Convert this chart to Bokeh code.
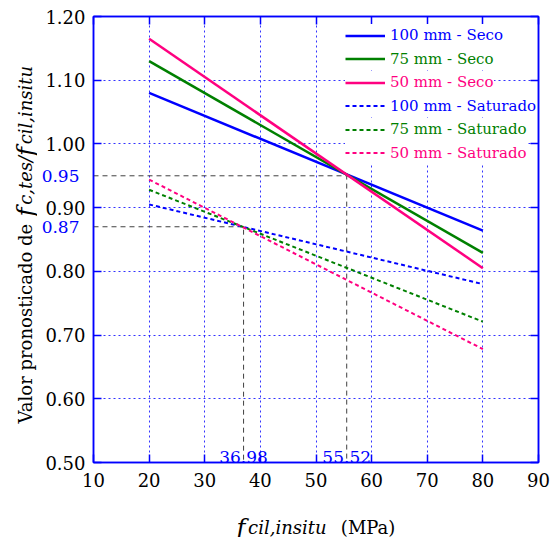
import math
from bokeh.plotting import figure
from bokeh.layouts import row, column
from bokeh.models import (Range1d, FixedTicker, LinearAxis, Legend, LegendItem,
                          Label, NumeralTickFormatter)
from bokeh.core.properties import value
from bokeh.embed import file_html
from bokeh.resources import INLINE

# ---------------- data ----------------
x_pts = [20, 80]
seco_100 = [1.080, 0.864]
seco_75 = [1.130, 0.829]
seco_50 = [1.165, 0.805]
sat_100 = [0.905, 0.780]
sat_75 = [0.928, 0.721]
sat_50 = [0.944, 0.678]
series_names = ["100 mm - Seco", "75 mm - Seco", "50 mm - Seco",
                "100 mm - Saturado", "75 mm - Saturado", "50 mm - Saturado"]
x_ticks = [10, 20, 30, 40, 50, 60, 70, 80, 90]
y_ticks = [0.5, 0.6, 0.7, 0.8, 0.9, 1.0, 1.1, 1.2]
cross_x = [55.52, 36.98]
cross_y = [0.95, 0.87]
cross_x_labels = ["55.52", "36.98"]

BLUE = "#0000ff"
GREEN = "#008000"
PINK = "#ff0080"
FONT = "DejaVu Serif"

# approximate DejaVu Serif advance widths (em)
DV = {' ': .318, '(': .390, ')': .390, ',': .318, '-': .338, '.': .318, '/': .337,
      'M': .995, 'P': .733, 'V': .722, 'a': .596, 'c': .560, 'd': .640, 'e': .592,
      'f': .370, 'i': .320, 'l': .320, 'n': .644, 'o': .602, 'p': .640, 'r': .478,
      's': .513, 't': .402, 'u': .644}


def tw(s, size, style):
    k = 1.08 if style == "italic" else 1.0
    return sum(DV.get(ch, 0.6) for ch in s) * size * k


def blank_fig(w, h, xr, yr, bl=0, br=0):
    f = figure(width=w, height=h, x_range=Range1d(*xr), y_range=Range1d(*yr),
               x_axis_type=None, y_axis_type=None,
               output_backend="svg", toolbar_location=None,
               min_border=0, min_border_left=bl, min_border_right=br,
               min_border_top=0, min_border_bottom=0)
    f.grid.visible = False
    f.outline_line_color = None
    f.background_fill_color = "white"
    f.border_fill_color = "white"
    return f


LEFT_W = 37
MAIN_W = 550 - LEFT_W
MAIN_H = 500
BL, BR = 56, 12

# ---------------- main plot ----------------
p = figure(width=MAIN_W, height=MAIN_H, x_range=Range1d(10, 90), y_range=Range1d(0.5, 1.2),
           output_backend="svg", toolbar_location=None,
           min_border_left=BL, min_border_right=BR, min_border_top=16, min_border_bottom=38)
p.background_fill_color = "white"
p.border_fill_color = "white"
p.outline_line_color = BLUE
p.outline_line_width = 1.5

for ax in p.xaxis + p.yaxis:
    ax.axis_line_color = BLUE
    ax.axis_line_width = 1.5
    ax.major_tick_line_color = BLUE
    ax.major_tick_line_width = 1.5
    ax.major_tick_in = 8
    ax.major_tick_out = 0
    ax.minor_tick_line_color = None
    ax.major_label_text_font = FONT
    ax.major_label_text_font_size = "18px"
    ax.major_label_text_color = "black"
p.xaxis.ticker = FixedTicker(ticks=x_ticks)
p.yaxis.ticker = FixedTicker(ticks=y_ticks)
p.yaxis.formatter = NumeralTickFormatter(format="0.00")
p.xaxis.major_label_standoff = 10
p.yaxis.major_label_standoff = 8

# blue labels for the crossing values, as a second left axis pulled inwards
cross_axis = LinearAxis(ticker=FixedTicker(ticks=cross_y),
                        formatter=NumeralTickFormatter(format="0.00"),
                        axis_line_color=None, major_tick_line_color=None,
                        minor_tick_line_color=None, major_label_standoff=-43,
                        major_label_text_font=FONT, major_label_text_font_size="17px",
                        major_label_text_color=BLUE)
p.add_layout(cross_axis, "left")

p.xgrid.ticker = FixedTicker(ticks=x_ticks)
p.ygrid.ticker = FixedTicker(ticks=y_ticks)
for g in (p.xgrid, p.ygrid):
    g.grid_line_color = BLUE
    g.grid_line_alpha = 0.8
    g.grid_line_dash = "2 3"
    g.grid_line_width = 1

for side, tk in (("above", x_ticks), ("right", y_ticks)):
    ax = LinearAxis(ticker=FixedTicker(ticks=tk), major_label_text_font_size="0px",
                    axis_line_color=BLUE, axis_line_width=1.5,
                    major_tick_line_color=BLUE, major_tick_line_width=1.5,
                    major_tick_in=8, major_tick_out=0, minor_tick_line_color=None,
                    major_label_standoff=0)
    p.add_layout(ax, side)

# reference dashed lines
for cx, cy in zip(cross_x, cross_y):
    p.line([x_ticks[0], cx, cx], [cy, cy, y_ticks[0]], line_color="#404040",
           line_dash="5 4", line_width=1)

series = [seco_100, seco_75, seco_50, sat_100, sat_75, sat_50]
colors = [BLUE, GREEN, PINK, BLUE, GREEN, PINK]
dashes = ["solid", "solid", "solid", "4 3", "4 3", "4 3"]
widths = [2.5, 2.5, 2.5, 2, 2, 2]
renderers = []
for vals, col, dsh, w in zip(series, colors, dashes, widths):
    r = p.line(x_pts, vals, line_color=col, line_dash=dsh, line_width=w)
    renderers.append(r)

# legends (one per item, so every label has its own colour)
for k, (name, r, col) in enumerate(zip(series_names, renderers, colors)):
    leg = Legend(items=[LegendItem(label=name, renderers=[r])],
                 location=(252, 427 - 23.5 * k - 11.5),
                 background_fill_color="white", background_fill_alpha=1.0,
                 border_line_color=None, padding=0, margin=0, spacing=0,
                 glyph_width=40, glyph_height=23, label_height=23, label_standoff=5,
                 label_text_font=FONT, label_text_font_size="15px",
                 label_text_color=col)
    p.add_layout(leg)

# blue crossing labels inside the frame
for cx, t in zip(cross_x, cross_x_labels):
    p.add_layout(Label(x=cx, y=y_ticks[0], text=t, text_align="center",
                       text_baseline="bottom", text_font=FONT,
                       text_font_size="17px", text_color=BLUE))

# ---------------- y axis title (left strip, page pixel coords, y up) ----------------
left = blank_fig(LEFT_W, 537, (0, LEFT_W), (0, 537))
ypieces = [("Valor pronosticado de ", "normal", 18, 0),
           ("f", "italic", 24, 2),
           ("c,tes/", "italic", 18, -4),
           ("f", "italic", 24, 2),
           ("cil,insitu", "italic", 18, 0)]
pos = 114
for txt, style, size, gap in ypieces:
    left.text(x=[25], y=[pos], text=[txt.strip()], angle=math.pi / 2,
              text_align="left", text_baseline="middle",
              text_font=value(FONT), text_font_style=style,
              text_font_size=value(f"{size}px"), text_color="black")
    pos += tw(txt, size, style) + gap

# ---------------- x axis title (bottom strip, frame aligned with main frame) ----------------
bottom = blank_fig(MAIN_W, 537 - MAIN_H, (LEFT_W + BL, 550 - BR), (0, 537 - MAIN_H), BL, BR)
xpieces = [("f", "italic", 24, 2),
           ("cil,insitu", "italic", 18, 8),
           ("(MPa)", "normal", 18, 0)]
pos = 236
for txt, style, size, gap in xpieces:
    bottom.text(x=[pos], y=[10], text=[txt], text_align="left",
                text_baseline="alphabetic", text_font=value(FONT),
                text_font_style=style, text_font_size=value(f"{size}px"),
                text_color="black")
    pos += tw(txt, size, style) + gap

layout = row(left, column(p, bottom, spacing=0), spacing=0)
open("out.html", "w").write(file_html(layout, INLINE))
